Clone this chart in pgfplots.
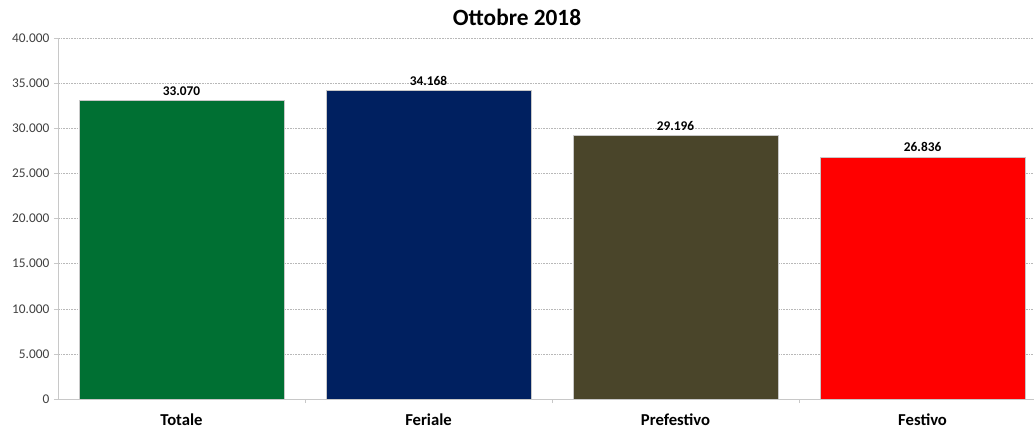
\documentclass[border=0pt]{standalone}
\usepackage{pgfplots}
\pgfplotsset{compat=1.18}
\usepackage{fontspec}
\setmainfont{Carlito}

\definecolor{cTot}{HTML}{007033}
\definecolor{cFer}{HTML}{002060}
\definecolor{cPre}{HTML}{4A452A}
\definecolor{cFes}{HTML}{FF0000}
\definecolor{gridc}{HTML}{B8B8B8}
\definecolor{axisc}{HTML}{C8C8C8}
\definecolor{tickc}{HTML}{404040}

\begin{document}
\begin{tikzpicture}
\begin{axis}[
    name=ax,
    scale only axis,
    width=732pt, height=270.75pt,
    axis lines=left,
    axis line style={axisc, -},
    xmin=-0.5, xmax=3.451,
    ymin=0, ymax=40000,
    ytick={0,5000,...,40000},
    ymajorgrids,
    major grid style={gridc, very thin, dash pattern=on 1.2pt off 0.8pt},
    y tick label style={font=\fontsize{10}{12}\selectfont, text=tickc},
    /pgf/number format/assume math mode=true,
    yticklabel style={/pgf/number format/.cd, fixed, 1000 sep={.}},
    scaled y ticks=false,
    tick style={axisc},
    tick align=outside,
    major tick length=3pt,
    % category boundaries carry the tick marks
    xtick={0.5,1.5,2.5},
    xticklabels={},
    % category names sit at the bar centres, without marks
    extra x ticks={0,1,2,3},
    extra x tick labels={Totale, Feriale, Prefestivo, Festivo},
    extra x tick style={major tick length=0pt, grid=none,
        x tick label style={font=\bfseries\fontsize{12.5}{14}\selectfont, yshift=-7.5pt}},
    ybar, bar width=0.83, bar shift=0pt,
    nodes near coords,
    every node near coord/.append style={font=\bfseries\fontsize{10}{12}\selectfont, text=black, yshift=0pt,
        /pgf/number format/.cd, fixed, 1000 sep={.}},
    clip=false,
]
\addplot[fill=cTot, draw=axisc] coordinates {(0,33070)};
\addplot[fill=cFer, draw=axisc] coordinates {(1,34168)};
\addplot[fill=cPre, draw=axisc] coordinates {(2,29196)};
\addplot[fill=cFes, draw=axisc] coordinates {(3,26836)};
\end{axis}
\node[font=\bfseries\fontsize{17.5}{20}\selectfont] at ([xshift=-43.5pt+387.75pt, yshift=15.75pt]ax.north west) {Ottobre 2018};
\pgfresetboundingbox
\path (ax.south west) ++(-43.5pt,-21.75pt) rectangle ++(775.5pt,321pt);
\end{tikzpicture}
\end{document}
